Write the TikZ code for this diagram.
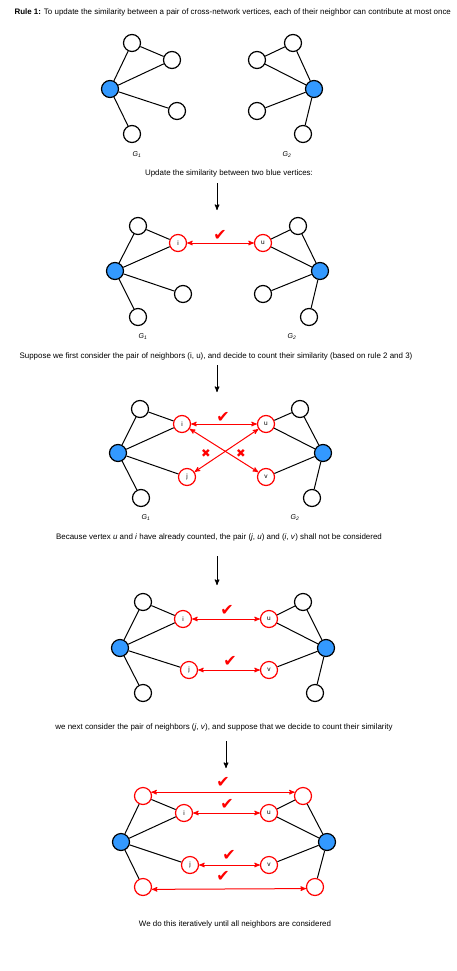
\documentclass[tikz,border=0pt]{standalone}
\usepackage{fontspec}
\setmainfont{Liberation Sans}
\newfontfamily\dingfont{DejaVu Sans}
\usetikzlibrary{arrows}

\definecolor{vertexblue}{RGB}{51,153,255}

\begin{document}
\begin{tikzpicture}[x=1pt, y=-1pt, >=stealth', font=\fontsize{7.95}{9.5}\selectfont]
  % Styles
  \tikzstyle{vertex}=[circle, draw=black, fill=white, line width=1.2pt, minimum size=17pt, inner sep=0pt, font=\fontsize{6.5}{6.5}\selectfont]
  \tikzstyle{link}=[draw=black, line width=1pt]
  \tikzstyle{match}=[draw=red, line width=1pt, <->]
  \tikzstyle{flowarrow}=[draw=black, line width=1pt, ->]
  \tikzset{centernode/.style={vertex, fill=vertexblue}}
  \tikzset{pairnode/.style={vertex, draw=red}}
  \tikzset{checkmark/.style={text=red, font=\dingfont\fontsize{16}{16}\selectfont, inner sep=0pt}}
  \tikzset{crossmark/.style={text=red, font=\dingfont\fontsize{11.5}{11.5}\selectfont, inner sep=0pt}}
  \tikzset{graphname/.style={font=\fontsize{7}{7}\selectfont\itshape}}

  \useasboundingbox (0,0) rectangle (457,971);

  % --- Title ---
  \node[anchor=west] (Title) at (11,12) {\textbf{Rule 1:} To update the similarity between a pair of cross-network vertices, each of their neighbor can contribute at most once};

  % --- Panel 1: the two graphs ---
  \node[centernode] (LeftBlue1) at (110,89) {};
  \node[vertex] (LeftTop1) at (132,43) {};
  \node[vertex] (LeftUp1) at (172,60) {};
  \node[vertex] (LeftLow1) at (177,111) {};
  \node[vertex] (LeftBot1) at (132,134) {};
  \node[centernode] (RightBlue1) at (314,89) {};
  \node[vertex] (RightTop1) at (293,43) {};
  \node[vertex] (RightUp1) at (257,60) {};
  \node[vertex] (RightLow1) at (257,111) {};
  \node[vertex] (RightBot1) at (303,134) {};
  \node[graphname] (GOne1) at (137,155) {G\textsubscript{1}};
  \node[graphname] (GTwo1) at (287,155) {G\textsubscript{2}};

  \path
    (LeftBlue1) edge [link] (LeftTop1)
    (LeftTop1) edge [link] (LeftUp1)
    (LeftBlue1) edge [link] (LeftUp1)
    (LeftBlue1) edge [link] (LeftLow1)
    (LeftBlue1) edge [link] (LeftBot1)
    (RightBlue1) edge [link] (RightTop1)
    (RightTop1) edge [link] (RightUp1)
    (RightBlue1) edge [link] (RightUp1)
    (RightBlue1) edge [link] (RightLow1)
    (RightBlue1) edge [link] (RightBot1);

  \node (Caption1) at (229,173) {Update the similarity between two blue vertices:};
  \coordinate (FlowStart1) at (217,183);
  \coordinate (FlowEnd1) at (217,210);
  \draw[flowarrow] (FlowStart1) -- (FlowEnd1);

  % --- Panel 2: pair (i, u) ---
  \node[centernode] (LeftBlue2) at (115,271) {};
  \node[vertex] (LeftTop2) at (138,226) {};
  \node[pairnode] (I2) at (178,243) {i};
  \node[vertex] (LeftLow2) at (183,294) {};
  \node[vertex] (LeftBot2) at (138,317) {};
  \node[centernode] (RightBlue2) at (320,271) {};
  \node[vertex] (RightTop2) at (298,226) {};
  \node[pairnode] (U2) at (263,243) {u};
  \node[vertex] (RightLow2) at (263,294) {};
  \node[vertex] (RightBot2) at (309,317) {};
  \node[graphname] (GOne2) at (143,337) {G\textsubscript{1}};
  \node[graphname] (GTwo2) at (292,337) {G\textsubscript{2}};
  \node[checkmark] (Check2) at (220,235) {✔};

  \path
    (LeftBlue2) edge [link] (LeftTop2)
    (LeftTop2) edge [link] (I2)
    (LeftBlue2) edge [link] (I2)
    (LeftBlue2) edge [link] (LeftLow2)
    (LeftBlue2) edge [link] (LeftBot2)
    (RightBlue2) edge [link] (RightTop2)
    (RightTop2) edge [link] (U2)
    (RightBlue2) edge [link] (U2)
    (RightBlue2) edge [link] (RightLow2)
    (RightBlue2) edge [link] (RightBot2);
  \path (I2) edge [match] (U2);

  \node (Caption2) at (216,356) {Suppose we first consider the pair of neighbors (i, u), and decide to count their similarity (based on rule 2 and 3)};
  \coordinate (FlowStart2) at (217,365);
  \coordinate (FlowEnd2) at (217,392);
  \draw[flowarrow] (FlowStart2) -- (FlowEnd2);

  % --- Panel 3: crossed pairs ---
  \node[centernode] (LeftBlue3) at (118,453) {};
  \node[vertex] (LeftTop3) at (140,409) {};
  \node[pairnode] (I3) at (182,424) {i};
  \node[pairnode] (J3) at (187,477) {j};
  \node[vertex] (LeftBot3) at (141,498) {};
  \node[centernode] (RightBlue3) at (323,453) {};
  \node[vertex] (RightTop3) at (300,409) {};
  \node[pairnode] (U3) at (266,424) {u};
  \node[pairnode] (V3) at (266,477) {v};
  \node[vertex] (RightBot3) at (312,498) {};
  \node[graphname] (GOne3) at (146,518) {G\textsubscript{1}};
  \node[graphname] (GTwo3) at (295,518) {G\textsubscript{2}};
  \node[checkmark] (Check3) at (223,417) {✔};
  \node[crossmark] (CrossJU) at (206,453) {✖};
  \node[crossmark] (CrossIV) at (241,453) {✖};

  \path
    (LeftBlue3) edge [link] (LeftTop3)
    (LeftTop3) edge [link] (I3)
    (LeftBlue3) edge [link] (I3)
    (LeftBlue3) edge [link] (J3)
    (LeftBlue3) edge [link] (LeftBot3)
    (RightBlue3) edge [link] (RightTop3)
    (RightTop3) edge [link] (U3)
    (RightBlue3) edge [link] (U3)
    (RightBlue3) edge [link] (V3)
    (RightBlue3) edge [link] (RightBot3);
  \path
    (I3) edge [match] (U3)
    (I3) edge [match] (V3)
    (U3) edge [match] (J3);

  \node (Caption3) at (219,537) {Because vertex \textit{u} and \textit{i} have already counted, the pair (\textit{j}, \textit{u}) and (\textit{i}, \textit{v}) shall not be considered};
  \coordinate (FlowStart3) at (217,556);
  \coordinate (FlowEnd3) at (217,585);
  \draw[flowarrow] (FlowStart3) -- (FlowEnd3);

  % --- Panel 4: pairs (i, u) and (j, v) ---
  \node[centernode] (LeftBlue4) at (120,648) {};
  \node[vertex] (LeftTop4) at (143,602) {};
  \node[pairnode] (I4) at (183,619) {i};
  \node[pairnode] (J4) at (189,670) {j};
  \node[vertex] (LeftBot4) at (143,693) {};
  \node[centernode] (RightBlue4) at (326,648) {};
  \node[vertex] (RightTop4) at (303,602) {};
  \node[pairnode] (U4) at (269,619) {u};
  \node[pairnode] (V4) at (269,670) {v};
  \node[vertex] (RightBot4) at (315,693) {};
  \node[checkmark] (CheckIU4) at (227,610) {✔};
  \node[checkmark] (CheckJV4) at (230,661) {✔};

  \path
    (LeftBlue4) edge [link] (LeftTop4)
    (LeftTop4) edge [link] (I4)
    (LeftBlue4) edge [link] (I4)
    (LeftBlue4) edge [link] (J4)
    (LeftBlue4) edge [link] (LeftBot4)
    (RightBlue4) edge [link] (RightTop4)
    (RightTop4) edge [link] (U4)
    (RightBlue4) edge [link] (U4)
    (RightBlue4) edge [link] (V4)
    (RightBlue4) edge [link] (RightBot4);
  \path
    (I4) edge [match] (U4)
    (J4) edge [match] (V4);

  \node (Caption4) at (224,727) {we next consider the pair of neighbors (\textit{j}, \textit{v}), and suppose that we decide to count their similarity};
  \coordinate (FlowStart4) at (226,741);
  \coordinate (FlowEnd4) at (226,768);
  \draw[flowarrow] (FlowStart4) -- (FlowEnd4);

  % --- Panel 5: all neighbors paired ---
  \node[centernode] (LeftBlue5) at (121,842) {};
  \node[pairnode] (LeftTop5) at (143,796) {};
  \node[pairnode] (I5) at (184,813) {i};
  \node[pairnode] (J5) at (190,865) {j};
  \node[pairnode] (LeftBot5) at (143,887) {};
  \node[centernode] (RightBlue5) at (327,842) {};
  \node[pairnode] (RightTop5) at (303,796) {};
  \node[pairnode] (U5) at (269,813) {u};
  \node[pairnode] (V5) at (269,865) {v};
  \node[pairnode] (RightBot5) at (315,887) {};
  \node[checkmark] (CheckTop5) at (223,782) {✔};
  \node[checkmark] (CheckIU5) at (227,804) {✔};
  \node[checkmark] (CheckJV5) at (229,855) {✔};
  \node[checkmark] (CheckBot5) at (223,876) {✔};

  \path
    (LeftBlue5) edge [link] (LeftTop5)
    (LeftTop5) edge [link] (I5)
    (LeftBlue5) edge [link] (I5)
    (LeftBlue5) edge [link] (J5)
    (LeftBlue5) edge [link] (LeftBot5)
    (RightBlue5) edge [link] (RightTop5)
    (RightTop5) edge [link] (U5)
    (RightBlue5) edge [link] (U5)
    (RightBlue5) edge [link] (V5)
    (RightBlue5) edge [link] (RightBot5);
  \path
    (LeftTop5.25) edge [match] (RightTop5.155)
    (I5) edge [match] (U5)
    (J5) edge [match] (V5)
    (LeftBot5.-15) edge [match] (RightBot5.190);

  \node (Caption5) at (235,924) {We do this iteratively until all neighbors are considered};

\end{tikzpicture}
\end{document}
